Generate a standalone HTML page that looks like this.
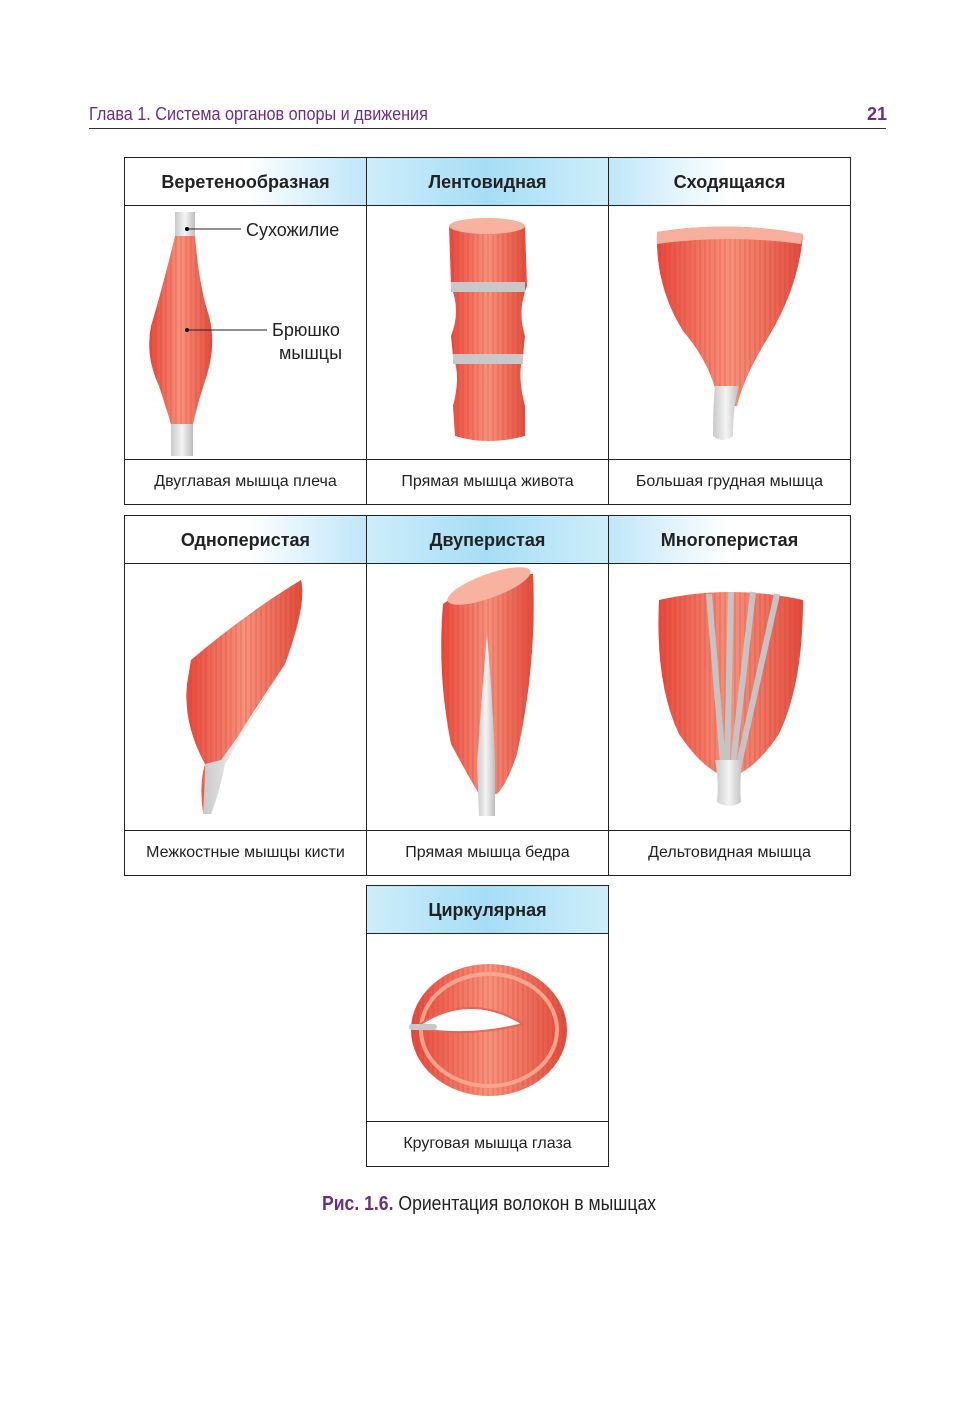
<!DOCTYPE html>
<html><head><meta charset="utf-8"><style>
body{margin:0;background:#fff;width:975px;height:1418px;position:relative;font-family:"Liberation Sans",sans-serif;overflow:hidden}
.a{position:absolute}
.hdr{color:#6b2d86;font-family:"Liberation Sans Narrow","Liberation Sans",sans-serif;font-size:18px}
.box{position:absolute;border:1px solid #222;box-sizing:border-box}
.h{position:absolute;left:0;top:0;height:48px;border-bottom:1px solid #222;box-sizing:border-box;font-weight:bold;font-size:18px;color:#222;text-align:center;line-height:48px;width:241px}
.c{position:absolute;left:0;bottom:0;height:45px;border-top:1px solid #222;box-sizing:border-box;font-size:16px;color:#222;text-align:center;line-height:44px;width:241px}
.g1{background:linear-gradient(90deg,#fff 50%,#bfe6f8)}
.g2{background:linear-gradient(90deg,#cdeefa,#a6ddf5 50%,#cdeefa)}
.g3{background:linear-gradient(90deg,#bfe6f8,#fff 50%)}
.v{position:absolute;top:0;bottom:0;width:1px;background:#222}
</style></head><body>
<div class="a hdr" style="left:89px;top:104px;transform:scaleX(.9);transform-origin:left">Глава 1. Система органов опоры и движения</div>
<div class="a hdr" style="left:867px;top:104px;font-weight:bold">21</div>
<div class="a" style="left:89px;top:128px;width:797px;height:1px;background:#333"></div>

<svg width="0" height="0" style="position:absolute"><defs>
<linearGradient id="m" x1="0" x2="1"><stop offset="0" stop-color="#e8473a"/><stop offset=".5" stop-color="#f7927c"/><stop offset="1" stop-color="#e24a3a"/></linearGradient>
<linearGradient id="t" x1="0" x2="1"><stop offset="0" stop-color="#c9c9c9"/><stop offset=".5" stop-color="#f4f4f4"/><stop offset="1" stop-color="#bdbdbd"/></linearGradient>
<pattern id="s" width="5" height="5" patternUnits="userSpaceOnUse"><rect width="5" height="5" fill="none"/><line x1="1" y1="0" x2="1" y2="5" stroke="#c93a2d" stroke-opacity=".35" stroke-width="1"/></pattern>
</defs></svg>

<!-- Row 1 -->
<div class="box" style="left:124px;top:157px;width:727px;height:348px">
<div class="h g1">Веретенообразная</div>
<div class="h g2" style="left:242px">Лентовидная</div>
<div class="h g3" style="left:484px">Сходящаяся</div>
<div class="c">Двуглавая мышца плеча</div>
<div class="c" style="left:242px">Прямая мышца живота</div>
<div class="c" style="left:484px">Большая грудная мышца</div>
<div class="v" style="left:241px"></div><div class="v" style="left:483px"></div>
<svg class="a" style="left:0;top:48px" width="725" height="254">
<path d="M50 6h20v30h-20z" fill="url(#t)"/>
<path d="M46 214h22v36h-22z" fill="url(#t)"/>
<path d="M50 30 Q38 80 26 120 Q20 150 34 180 Q42 205 46 218 L68 218 Q72 200 80 175 Q92 140 84 110 Q74 80 70 30 Z" fill="url(#m)"/>
<path d="M50 30 Q38 80 26 120 Q20 150 34 180 Q42 205 46 218 L68 218 Q72 200 80 175 Q92 140 84 110 Q74 80 70 30 Z" fill="url(#s)"/>
<line x1="62" y1="23" x2="116" y2="23" stroke="#222"/><circle cx="62" cy="23" r="2"/>
<line x1="62" y1="124" x2="142" y2="124" stroke="#222"/><circle cx="62" cy="124" r="2"/>
<text x="121" y="30" font-size="18" fill="#222" font-family="Liberation Sans">Сухожилие</text>
<text x="147" y="130" font-size="18" fill="#222" font-family="Liberation Sans">Брюшко</text>
<text x="154" y="153" font-size="18" fill="#222" font-family="Liberation Sans">мышцы</text>
<g transform="translate(242,0)">
<path d="M82 20 Q120 8 158 20 L160 80 Q150 105 158 130 L156 150 Q150 170 158 200 L158 230 Q120 240 88 230 L86 200 Q94 170 86 150 L84 130 Q94 105 84 80 Z" fill="url(#m)"/>
<path d="M82 20 Q120 8 158 20 L160 80 Q150 105 158 130 L156 150 Q150 170 158 200 L158 230 Q120 240 88 230 L86 200 Q94 170 86 150 L84 130 Q94 105 84 80 Z" fill="url(#s)"/>
<rect x="84" y="76" width="74" height="10" fill="#c8c8c8"/><rect x="86" y="148" width="70" height="10" fill="#c8c8c8"/>
<ellipse cx="120" cy="20" rx="38" ry="8" fill="#f7b2a0"/>
</g>
<g transform="translate(484,0)">
<path d="M48 26 Q120 14 194 28 Q190 80 160 130 Q135 170 128 200 L110 200 Q104 160 74 125 Q46 80 48 26 Z" fill="url(#m)"/>
<path d="M48 26 Q120 14 194 28 Q190 80 160 130 Q135 170 128 200 L110 200 Q104 160 74 125 Q46 80 48 26 Z" fill="url(#s)"/>
<path d="M106 180 h24 Q124 200 124 230 Q114 238 104 230 Q104 200 106 180Z" fill="url(#t)"/>
<path d="M48 26 Q120 14 194 28 L192 38 Q120 28 48 38Z" fill="#f6b09d"/>
</g>
</svg>
</div>

<!-- Row 2 -->
<div class="box" style="left:124px;top:515px;width:727px;height:361px">
<div class="h g1">Одноперистая</div>
<div class="h g2" style="left:242px">Двуперистая</div>
<div class="h g3" style="left:484px">Многоперистая</div>
<div class="c">Межкостные мышцы кисти</div>
<div class="c" style="left:242px">Прямая мышца бедра</div>
<div class="c" style="left:484px">Дельтовидная мышца</div>
<div class="v" style="left:241px"></div><div class="v" style="left:483px"></div>
<svg class="a" style="left:0;top:48px" width="725" height="266">
<path d="M66 96 Q120 50 176 16 Q182 40 160 100 Q120 160 96 200 Q88 240 84 248 L78 248 Q74 220 80 200 Q58 160 62 120 Z" fill="url(#m)"/>
<path d="M66 96 Q120 50 176 16 Q182 40 160 100 Q120 160 96 200 Q88 240 84 248 L78 248 Q74 220 80 200 Q58 160 62 120 Z" fill="url(#s)"/>
<path d="M160 100 Q130 150 100 200 Q94 230 86 250 L78 250 Q80 215 80 200 L96 196 Q130 150 160 100Z" fill="url(#t)"/>
<g transform="translate(242,0)">
<path d="M76 40 Q120 8 166 10 Q170 100 150 190 Q140 220 130 230 L112 230 Q100 210 84 180 Q70 110 76 40Z" fill="url(#m)"/>
<path d="M76 40 Q120 8 166 10 Q170 100 150 190 Q140 220 130 230 L112 230 Q100 210 84 180 Q70 110 76 40Z" fill="url(#s)"/>
<path d="M120 70 Q114 140 110 200 L112 252 L128 252 L128 200 Q126 140 120 70Z" fill="url(#t)"/>
<ellipse cx="122" cy="22" rx="44" ry="12" fill="#f7b2a0" transform="rotate(-20 122 22)"/>
</g>
<g transform="translate(484,0)">
<path d="M50 36 Q120 20 194 36 Q194 120 170 170 Q150 200 130 210 L110 210 Q90 200 70 170 Q46 120 50 36Z" fill="url(#m)"/>
<path d="M50 36 Q120 20 194 36 Q194 120 170 170 Q150 200 130 210 L110 210 Q90 200 70 170 Q46 120 50 36Z" fill="url(#s)"/>
<g stroke="#c4c4c4" stroke-width="6" fill="none"><path d="M100 30 L114 200"/><path d="M122 28 L118 200"/><path d="M144 28 L124 200"/><path d="M168 30 L130 200"/></g>
<path d="M106 196 h28 Q130 215 132 238 Q120 246 108 238 Q110 215 106 196Z" fill="url(#t)"/>
</g>
</svg>
</div>

<!-- Row 3 -->
<div class="box" style="left:366px;top:885px;width:243px;height:282px">
<div class="h g2">Циркулярная</div>
<div class="c">Круговая мышца глаза</div>
<svg class="a" style="left:0;top:48px" width="241" height="188">
<ellipse cx="122" cy="96" rx="78" ry="66" fill="url(#m)"/>
<ellipse cx="122" cy="96" rx="78" ry="66" fill="url(#s)"/>
<ellipse cx="122" cy="96" rx="68" ry="56" fill="none" stroke="#f8a48e" stroke-width="4"/>
<path d="M48 94 Q100 56 156 90 Q100 104 48 94Z" fill="#fff" stroke="#e06a58" stroke-width="2"/>
<rect x="42" y="90" width="28" height="6" rx="3" fill="#c8c8c8"/>
</svg>
</div>

<div class="a" style="left:322px;top:1193px;font-size:20px;color:#222;font-family:'Liberation Sans Narrow','Liberation Sans',sans-serif;transform:scaleX(.88);transform-origin:left"><b style="color:#6b2d86">Рис. 1.6.</b> Ориентация волокон в мышцах</div>
</body></html>
